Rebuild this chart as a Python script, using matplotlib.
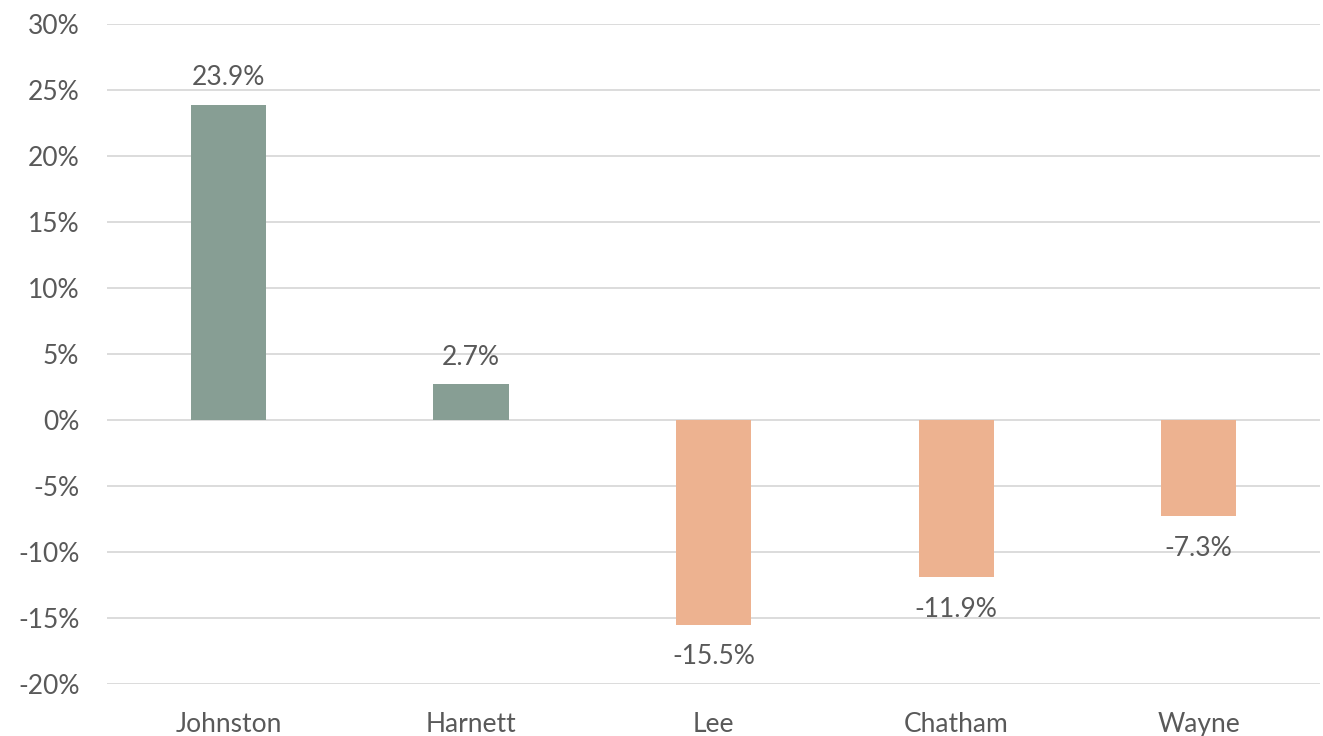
import numpy as np
import matplotlib.pyplot as plt

# data
counties = ['Johnston', 'Harnett', 'Lee', 'Chatham', 'Wayne']
change = [23.9, 2.7, -15.5, -11.9, -7.3]
ticks = [-20, -15, -10, -5, 0, 5, 10, 15, 20, 25, 30]

plt.rcParams['font.family'] = ['Lato', 'DejaVu Sans']

green = '#879e94'
peach = '#edb290'
txt = '#595959'

fig = plt.figure(figsize=(13.23, 7.36), dpi=100)
ax = fig.add_axes([0.081, 0.0707, 0.9167, 0.8967])

x = np.arange(len(counties))
colors = [green if v >= 0 else peach for v in change]
ax.bar(x, change, width=0.31, color=colors, zorder=3)

for xi, v in zip(x, change):
    if v >= 0:
        ax.text(xi, v + 1.1, f'{v:.1f}%', ha='center', va='bottom', fontsize=19, color=txt)
    else:
        ax.text(xi, v - 1.5, f'{v:.1f}%', ha='center', va='top', fontsize=19, color=txt)

ax.set_xlim(-0.5, len(counties) - 0.5)
ax.set_ylim(-20, 30)
ax.set_yticks(ticks)
ax.set_yticklabels([f'{t}%' for t in ticks])
ax.set_xticks(x)
ax.set_xticklabels(counties)
ax.grid(axis='y', color='#d9d9d9', linewidth=1.3, zorder=0)
for s in ax.spines.values():
    s.set_visible(False)
ax.tick_params(axis='both', length=0, labelsize=19, labelcolor=txt)
ax.tick_params(axis='y', pad=20)
ax.tick_params(axis='x', pad=20)

fig.savefig('out.png', dpi=100)
